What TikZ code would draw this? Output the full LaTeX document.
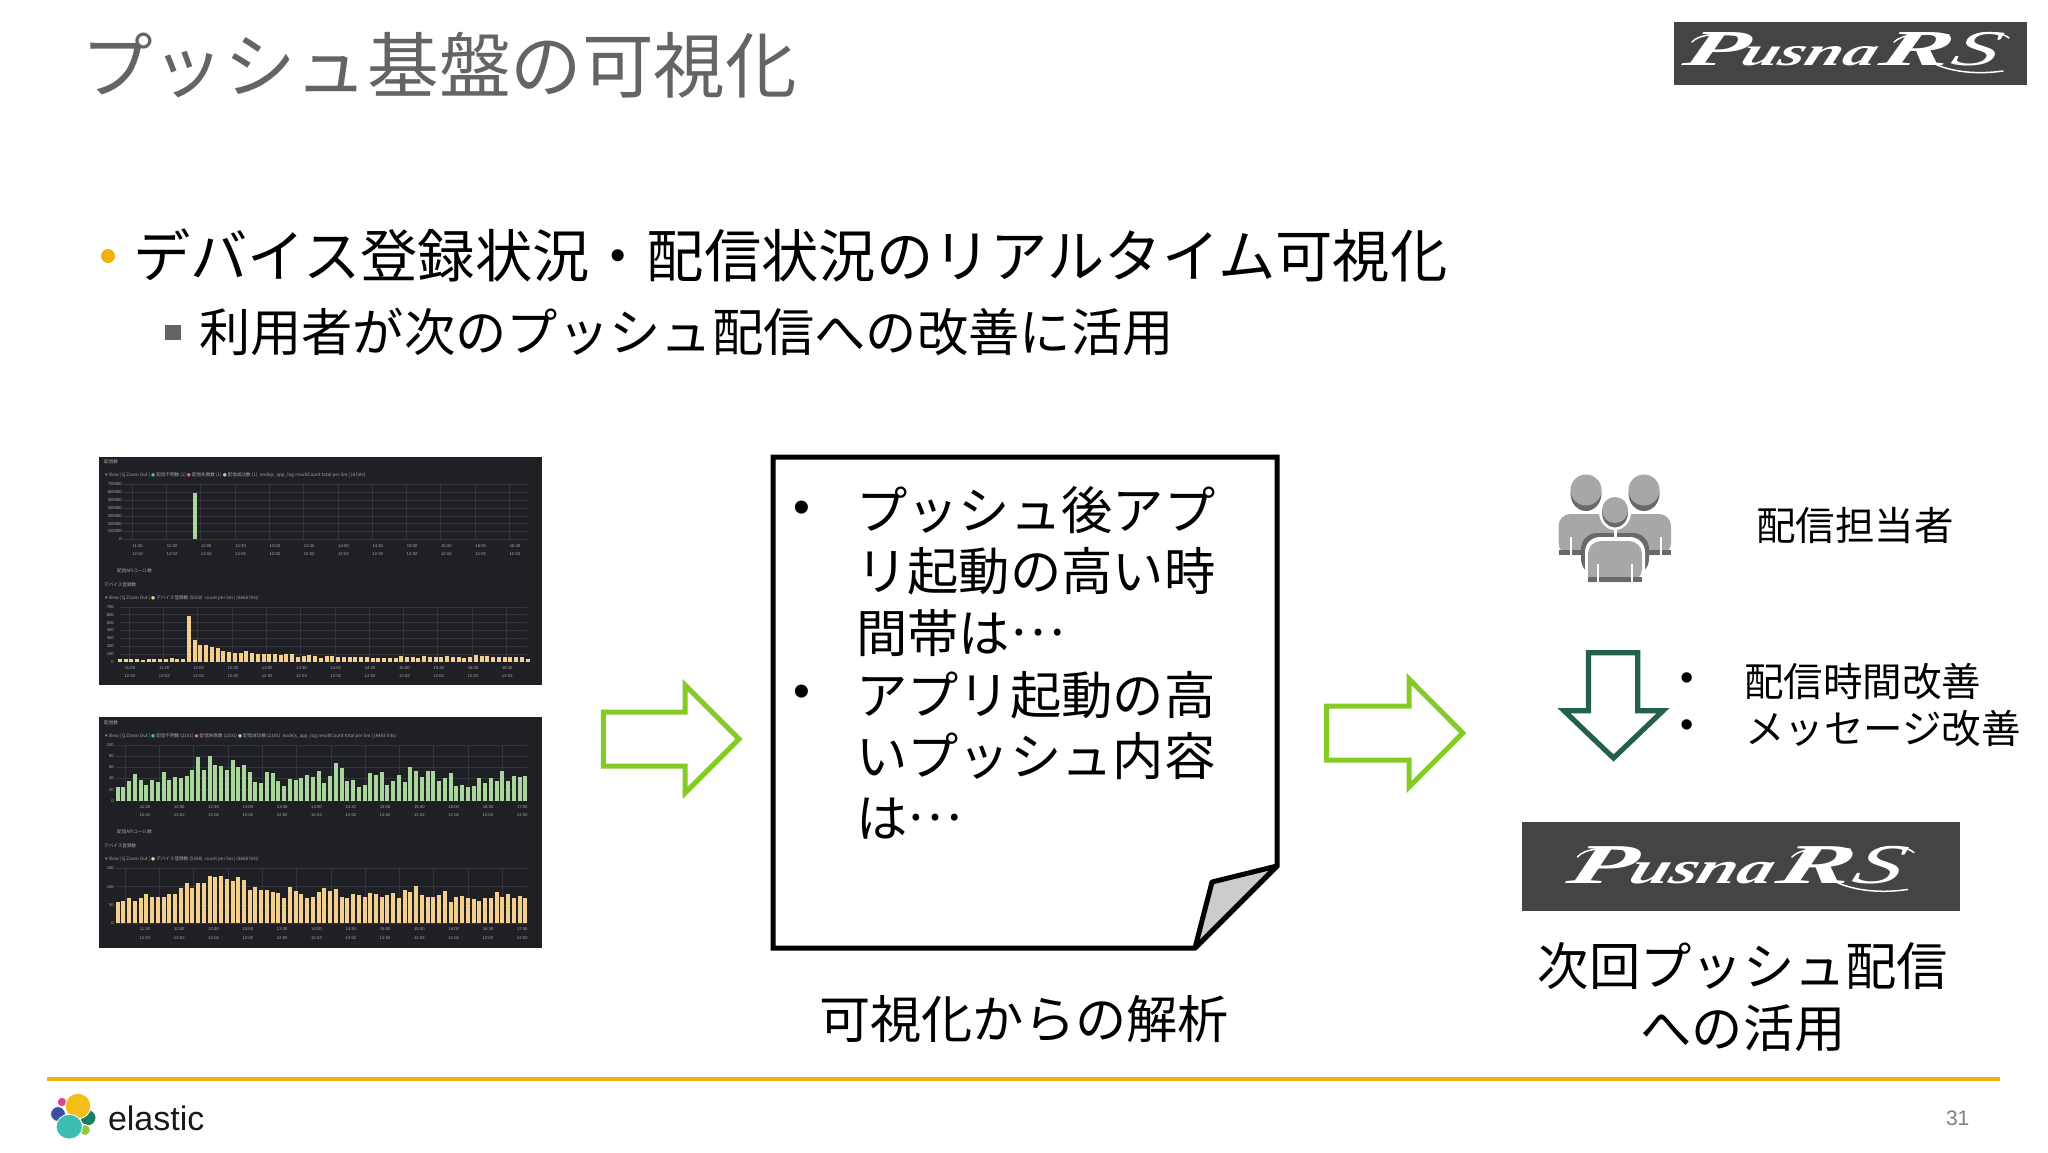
\documentclass[tikz,border=0pt]{standalone}
\usepackage{graphicx}
\usepackage{fontspec}
\setmainfont{Noto Sans CJK JP}
\newfontfamily\sansfont{Liberation Sans}
\newfontfamily\logofont{Liberation Serif}
\newfontfamily\symfont{DejaVu Sans}

\definecolor{titlegray}{HTML}{646464}
\definecolor{rulegold}{HTML}{EFB30F}
\definecolor{dashbg}{HTML}{1F2025}
\definecolor{dashline}{HTML}{33353B}
\definecolor{dashtext}{HTML}{A6A8AC}
\definecolor{barleaf}{HTML}{A9D79B}
\definecolor{barsand}{HTML}{F2CF8D}
\definecolor{logogray}{HTML}{454345}
\definecolor{arrowlime}{HTML}{84CC25}
\definecolor{arrowpine}{HTML}{23604F}
\definecolor{persongray}{HTML}{A8A6A8}
\definecolor{persondark}{HTML}{6A686B}
\definecolor{blobteal}{HTML}{3EBEB0}
\definecolor{blobpine}{HTML}{1E7C65}
\definecolor{bloblime}{HTML}{93C83E}
\definecolor{blobblue}{HTML}{3A4FA0}
\definecolor{blobpink}{HTML}{D9488F}
\definecolor{blobgold}{HTML}{F4BD19}
\definecolor{dotred}{HTML}{E8686E}

\tikzset{
    txt/.style={inner sep=0pt, outer sep=0pt, anchor=west, text=black},
    ticklabel/.style={inner sep=0pt, text=dashtext, font=\sansfont\fontsize{4.2}{5}\selectfont},
    dashhead/.style={inner sep=0pt, anchor=west, text=dashtext, font=\fontsize{4.6}{5}\selectfont},
    dashrule/.style={draw=dashline, line width=0.5pt},
    limearrow/.style={draw=arrowlime, line width=5pt, miter limit=10},
    logotext/.style={inner sep=0pt, anchor=south west, text=white, transform shape, xslant=0.35},
    swash/.style={draw=white, line width=1.5pt, line cap=round},
    blob/.style={draw=white, line width=0.8pt}
}

% bars: first x, base line, px per unit, colour, values
\newcommand{\dashbars}[5]{
    \foreach \v [count=\i from 0] in {#5}
        \fill[#4] ({#1+5.74*\i-2},#2) rectangle ++(4,{-#3*\v});
}
% grid: base line, row step, rows, first x, last x
\newcommand{\dashgrid}[5]{
    \foreach \r in {0,...,#3}
        \draw[dashrule] (#4,{#1-#2*\r}) -- (#5,{#1-#2*\r});
    \foreach \c in {0,...,11}
        \draw[dashrule] ({#4+9+34.3*\c},#1) -- ({#4+9+34.3*\c},{#1-#2*#3});
}
% time labels: name, first x, first row, second row, times
\newcommand{\dashticks}[5]{
    \foreach \tm [count=\i from 0] in {#5} {
        \node[ticklabel] (#1a\i) at ({#2+34.3*\i},#3) {\tm};
        \node[ticklabel] (#1b\i) at ({#2+34.3*\i},#4) {12-02};
    }
}
% value labels: name, right x, base line, row step, values
\newcommand{\dashvalues}[5]{
    \foreach \u [count=\i from 0] in {#5}
        \node[ticklabel, anchor=east] (#1v\i) at (#2,{#3-#4*\i}) {\u};
}
% logo lettering: name, left x, top y, width, height
\newcommand{\pusnalogo}[5]{
    \begin{scope}[shift={(#2,#3)}, xscale=#4/323, yscale=#5/34]
        \node[logotext] (#1p) at (-6,33) {\resizebox{62pt}{33pt}{\logofont\itshape\bfseries P}};
        \node[logotext] (#1u) at (52,33) {\resizebox{134pt}{19pt}{\logofont\itshape\bfseries usna}};
        \node[logotext] (#1r) at (190,33) {\resizebox{70pt}{33pt}{\logofont\itshape\bfseries R}};
        \node[logotext] (#1s) at (262,33) {\resizebox{46pt}{33pt}{\logofont\itshape S}};
        \draw[swash] (5,9) .. controls (12,1) and (30,0) .. (58,3);
        \draw[swash] (207,9) .. controls (215,1) and (235,0) .. (262,2);
        \draw[swash] (233,21) .. controls (248,36) and (280,43) .. (316,38);
        \draw[swash] (290,1) .. controls (303,-2) and (316,0) .. (322,5);
    \end{scope}
}
% legend marker
\newcommand{\legdot}[1]{{\symfont\textcolor{#1}{●}}}

\begin{document}
\begin{tikzpicture}[x=1pt, y=-1pt]
    \useasboundingbox (0,0) rectangle (2048,1152);
    \fill[white] (0,0) rectangle (2048,1152);

    % heading
    \node[txt, text=titlegray, font=\fontsize{71.6}{80}\selectfont] (title) at (81,65) {プッシュ基盤の可視化};
    \fill[logogray] (1674,22) rectangle (2027,85);
    \pusnalogo{logotop}{1687}{33}{323}{34}

    \fill[rulegold] (108,256) circle (7);
    \node[txt, font=\fontsize{57.3}{64}\selectfont] (bulleta) at (133,255) {デバイス登録状況・配信状況のリアルタイム可視化};
    \fill[titlegray] (165,325) rectangle (181,340);
    \node[txt, font=\fontsize{51.3}{60}\selectfont] (bulletb) at (199,332) {利用者が次のプッシュ配信への改善に活用};

    % dashboards
    \fill[dashbg] (99,457) rectangle (542,685);
    \dashgrid{539.3}{7.83}{7}{123}{527}
    \dashgrid{661.7}{7.83}{7}{120}{527}
    \fill[barleaf] (193.3,539.3) rectangle ++(4,-46.6);
    \dashbars{120}{661.7}{0.0778}{barsand}{35,40,30,38,28,40,40,38,40,45,40,35,590,285,210,215,185,180,140,125,115,110,135,110,100,100,95,100,85,95,100,65,70,80,75,50,70,70,55,65,55,60,55,60,50,50,50,50,45,75,60,55,50,70,65,55,60,70,55,55,50,60,90,70,70,60,60,60,60,60,65,30}
    \dashticks{ticka}{137.7}{545.7}{554}{11:00,11:30,12:00,12:30,13:00,13:30,14:00,14:30,15:00,15:30,16:00,16:30}
    \dashticks{tickb}{130}{667.7}{676}{11:00,11:30,12:00,12:30,13:00,13:30,14:00,14:30,15:00,15:30,16:00,16:30}
    \dashvalues{ticka}{122}{539.3}{7.83}{0,100000,200000,300000,400000,500000,600000,700000}
    \dashvalues{tickb}{114}{661.7}{7.83}{0,100,200,300,400,500,600,700}
    \node[dashhead] (heada) at (104,462) {配信数};
    \node[dashhead] (subheada) at (105,475) {{\symfont ▾} View | Q Zoom Out | \legdot{blobteal} 配信不明数 (1) \legdot{dotred} 配信失敗数 (1) \legdot{barleaf} 配信成功数 (1)\ \ nodejs\_app\_log.resultCount total per 5m | (8 hits)};
    \node[dashhead] (apia) at (117,571) {配信APIコール数};
    \node[dashhead] (headb) at (104,585) {デバイス登録数};
    \node[dashhead] (subheadb) at (105,598) {{\symfont ▾} View | Q Zoom Out | \legdot{barsand} デバイス登録数 (5058)\ \ count per 5m | (8668 hits)};

    \fill[dashbg] (99,717) rectangle (542,948);
    \dashgrid{800.7}{11.13}{5}{116}{527}
    \dashgrid{923.3}{18.3}{3}{116}{527}
    \dashbars{117.7}{800.7}{0.557}{barleaf}{25,25,36,48,38,29,38,34,51,38,43,41,44,55,78,56,80,64,62,55,73,61,65,52,34,31,51,50,35,27,39,38,41,46,42,53,31,44,68,58,35,38,25,28,50,46,52,29,36,46,33,61,53,42,54,54,35,41,50,26,28,25,27,40,31,40,36,53,36,44,42,44}
    \dashbars{117.7}{923.3}{0.367}{barsand}{57,60,70,62,70,80,72,73,72,80,79,97,110,95,110,111,130,125,128,120,115,127,118,90,100,90,91,85,82,68,100,87,79,70,71,86,97,89,93,72,70,81,76,71,83,80,73,76,83,70,92,84,102,77,73,73,78,89,57,73,74,70,65,62,68,70,85,71,81,70,75,68}
    \dashticks{tickc}{145}{806.7}{815}{11:30,12:00,12:30,13:00,13:30,14:00,14:30,15:00,15:30,16:00,16:30,17:00}
    \dashticks{tickd}{145}{929.3}{937.7}{11:30,12:00,12:30,13:00,13:30,14:00,14:30,15:00,15:30,16:00,16:30,17:00}
    \dashvalues{tickc}{114}{800.7}{11.13}{0,20,40,60,80,100}
    \dashvalues{tickd}{114}{923.3}{18.3}{0,50,100,150}
    \node[dashhead] (headc) at (104,723) {配信数};
    \node[dashhead] (subheadc) at (105,736) {{\symfont ▾} View | Q Zoom Out | \legdot{blobteal} 配信不明数 (2101) \legdot{dotred} 配信失敗数 (2101) \legdot{barleaf} 配信成功数 (2101)\ \ nodejs\_app\_log.resultCount total per 5m | (8483 hits)};
    \node[dashhead] (apic) at (117,832) {配信APIコール数};
    \node[dashhead] (headd) at (104,846) {デバイス登録数};
    \node[dashhead] (subheadd) at (105,859) {{\symfont ▾} View | Q Zoom Out | \legdot{barsand} デバイス登録数 (5368)\ \ count per 5m | (8668 hits)};

    % arrows
    \draw[limearrow, fill=white] (603.3,712) -- (685,712) -- (685,685) -- (739,739) -- (685,793) -- (685,766) -- (603.3,766) -- cycle;
    \draw[limearrow, fill=white] (1326.7,706) -- (1409,706) -- (1409,679) -- (1462.7,733) -- (1409,787) -- (1409,760) -- (1326.7,760) -- cycle;

    % note
    \draw[black, line width=5pt, fill=white, miter limit=1.5] (773,457) -- (1277,457) -- (1277,866) -- (1195,948) -- (773,948) -- cycle;
    \draw[black, line width=5pt, fill=black!20, line join=bevel] (1195,948) -- (1212,882) -- (1277,866) -- cycle;
    \node[inner sep=0pt, font=\sansfont\fontsize{48}{48}\selectfont] (dota) at (802,512) {•};
    \node[inner sep=0pt, font=\sansfont\fontsize{48}{48}\selectfont] (dotb) at (802,696) {•};
    \node[inner sep=0pt, anchor=north west, align=left, font=\fontsize{51.3}{61.6}\selectfont] (memo) at (856,486) {プッシュ後アプ\\リ起動の高い時\\間帯は\raisebox{0.33em}{…}\\アプリ起動の高\\いプッシュ内容\\は\raisebox{0.33em}{…}};
    \node[inner sep=0pt, font=\fontsize{51.2}{60}\selectfont] (memotitle) at (1024,1019) {可視化からの解析};

    % people
    \fill[persondark] (1586,493.5) ellipse (15.5 and 17.5);
    \fill[persondark] (1644,493.5) ellipse (15.5 and 17.5);
    \fill[persongray] (1586,490) ellipse (15.5 and 15.5);
    \fill[persongray] (1644,490) ellipse (15.5 and 15.5);
    \fill[persongray, rounded corners=12pt] (1558.5,555) -- (1558.5,514) -- (1671,514) -- (1671,555) -- cycle;
    \fill[persondark] (1558.5,550) rectangle (1671,555);
    \fill[white] (1570,537) rectangle ++(2,18);
    \fill[white] (1660,537) rectangle ++(2,18);
    \fill[persondark, rounded corners=16pt] (1581,533) -- (1649,533) -- (1649,575) -- (1581,575) -- cycle;
    \fill[white, rounded corners=15pt] (1585,537) -- (1645,537) -- (1645,590) -- (1585,590) -- cycle;
    \fill[persongray, rounded corners=13pt] (1588,582) -- (1588,541) -- (1642,541) -- (1642,582) [sharp corners] -- cycle;
    \fill[persondark] (1588,577) rectangle (1642,582);
    \fill[white] (1597,564) rectangle ++(2,18);
    \fill[white] (1631,564) rectangle ++(2,18);
    \fill[white] (1613.5,528) rectangle ++(3,9);
    \fill[white] (1615,512) ellipse (16 and 18);
    \fill[persondark] (1615,512.5) ellipse (13 and 15);
    \fill[persongray] (1615,510) ellipse (13 and 13);
    \node[txt, font=\fontsize{39.5}{44}\selectfont] (sender) at (1756,525) {配信担当者};

    \draw[draw=arrowpine, line width=5.2pt, fill=white, miter limit=10] (1588.5,652.7) -- (1637.7,652.7) -- (1637.7,710.7) -- (1663,710.7) -- (1613.5,758) -- (1564,710.7) -- (1588.5,710.7) -- cycle;
    \node[inner sep=0pt, font=\sansfont\fontsize{38}{38}\selectfont] (dotc) at (1687,682) {•};
    \node[inner sep=0pt, font=\sansfont\fontsize{38}{38}\selectfont] (dotd) at (1687,729) {•};
    \node[txt, font=\fontsize{39.5}{44}\selectfont] (timing) at (1744,682) {配信時間改善};
    \node[txt, font=\fontsize{39.5}{44}\selectfont] (message) at (1745,729) {メッセージ改善};

    \fill[logogray] (1522,822) rectangle (1960,911);
    \pusnalogo{logomid}{1572}{847}{343}{38}
    \node[inner sep=0pt, align=center, font=\fontsize{51.3}{62}\selectfont] (reuse) at (1743,997) {次回プッシュ配信\\への活用};

    % footer
    \fill[rulegold] (47,1077) rectangle (2000,1080.5);
    \fill[blobblue, blob] (58,1114) circle (7.4);
    \fill[blobpink, blob] (62,1102) circle (4.8);
    \fill[blobpine, blob] (88,1117.7) circle (8);
    \fill[bloblime, blob] (85,1130) circle (5.5);
    \fill[blobgold, blob] (78,1106) circle (12.8);
    \fill[blobteal, blob] (69.3,1126.7) ellipse (13.2 and 12.4);
    \node[txt, font=\sansfont\fontsize{34}{40}\selectfont, text=black!90] (elastic) at (108,1118) {elastic};
    \node[txt, font=\sansfont\fontsize{21}{24}\selectfont, text=black!50] (pagenum) at (1946,1118) {31};
\end{tikzpicture}
\end{document}
